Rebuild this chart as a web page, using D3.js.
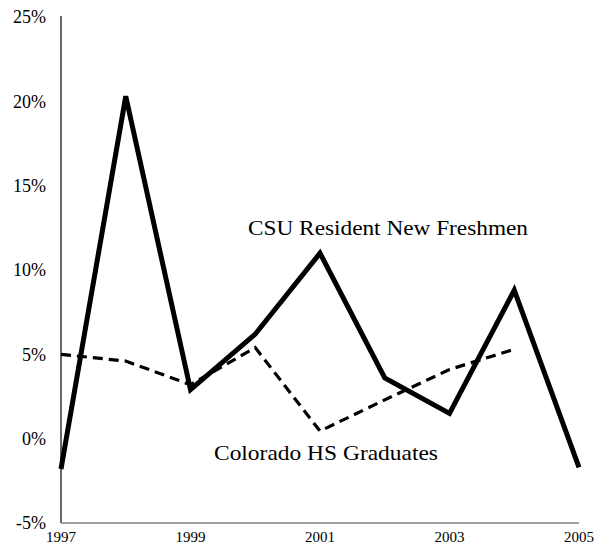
<!DOCTYPE html>
<html>
<head>
<meta charset="utf-8">
<script src="https://cdn.jsdelivr.net/npm/d3@7"></script>
<style>
  body { margin: 0; background: #fff; }
  text { font-family: "Liberation Serif", "Times New Roman", serif; fill: #000; }
</style>
</head>
<body>
<div id="chart"></div>
<script>
// data (percent change per year)
var years = [1997, 1998, 1999, 2000, 2001, 2002, 2003, 2004, 2005];
var csuFreshmen = [-1.8, 20.3, 2.9, 6.2, 11.0, 3.6, 1.5, 8.8, -1.7];
var hsGraduates = [5.0, 4.6, 3.2, 5.4, 0.45, 2.3, 4.1, 5.3, null];
var yTicks = [-5, 0, 5, 10, 15, 20, 25];
var xTicks = [1997, 1999, 2001, 2003, 2005];

var svgWidth = 595;
var svgHeight = 550;

var svg = d3.select("#chart")
  .append("svg")
  .attr("width", svgWidth)
  .attr("height", svgHeight);

var x = d3.scaleLinear()
  .domain([1997, 2005])
  .range([61, 579]);

var y = d3.scaleLinear()
  .domain([-5, 25])
  .range([523, 17]);

// axes lines
svg.append("line")
  .attr("x1", x(1997)).attr("x2", x(1997))
  .attr("y1", 16).attr("y2", y(-5))
  .attr("stroke", "#000")
  .attr("stroke-width", 1.2);

svg.append("line")
  .attr("x1", x(1997)).attr("x2", x(2005))
  .attr("y1", y(-5)).attr("y2", y(-5))
  .attr("stroke", "#808080")
  .attr("stroke-width", 1.5);

// y tick labels
svg.selectAll("text.ytick")
  .data(yTicks)
  .enter()
  .append("text")
  .attr("class", "ytick")
  .attr("x", 46)
  .attr("y", d => y(d))
  .attr("dy", "0.35em")
  .attr("text-anchor", "end")
  .style("font-size", "18px")
  .text(d => d + "%");

// x tick labels
svg.selectAll("text.xtick")
  .data(xTicks)
  .enter()
  .append("text")
  .attr("class", "xtick")
  .attr("x", d => x(d))
  .attr("y", 542)
  .attr("text-anchor", "middle")
  .style("font-size", "15px")
  .text(d => d);

var line = d3.line()
  .defined(d => d[1] !== null)
  .x(d => x(d[0]))
  .y(d => y(d[1]));

// Colorado HS graduates, dashed
svg.append("path")
  .datum(years.map((yr, i) => [yr, hsGraduates[i]]))
  .attr("d", line)
  .attr("fill", "none")
  .attr("stroke", "#000")
  .attr("stroke-width", 3.2)
  .attr("stroke-dasharray", "10,6");

// CSU resident new freshmen, solid
svg.append("path")
  .datum(years.map((yr, i) => [yr, csuFreshmen[i]]))
  .attr("d", line)
  .attr("fill", "none")
  .attr("stroke", "#000")
  .attr("stroke-width", 5)
  .attr("stroke-linejoin", "miter");

// series labels
svg.append("text")
  .attr("x", 248)
  .attr("y", 235)
  .attr("textLength", 280)
  .attr("lengthAdjust", "spacingAndGlyphs")
  .style("font-size", "21px")
  .text("CSU Resident New Freshmen");

svg.append("text")
  .attr("x", 214)
  .attr("y", 460)
  .attr("textLength", 224)
  .attr("lengthAdjust", "spacingAndGlyphs")
  .style("font-size", "21px")
  .text("Colorado HS Graduates");
</script>
</body>
</html>
